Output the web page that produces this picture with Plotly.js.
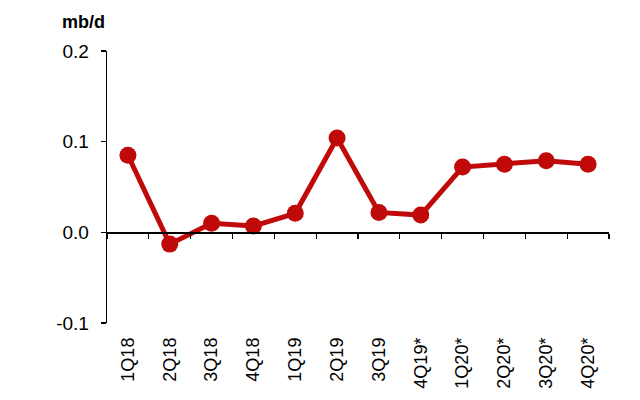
<!DOCTYPE html>
<html>
<head>
<meta charset="utf-8">
<script src="https://cdn.plot.ly/plotly-3.0.1.min.js"></script>
<style>html,body{margin:0;padding:0;background:#fff;}#chart{width:640px;height:400px;}</style>
</head>
<body>
<div id="chart"></div>
<script>
const categories = ["1Q18","2Q18","3Q18","4Q18","1Q19","2Q19","3Q19","4Q19*","1Q20*","2Q20*","3Q20*","4Q20*"];
const values = [0.085, -0.013, 0.010, 0.007, 0.021, 0.104, 0.022, 0.019, 0.072, 0.075, 0.079, 0.075];
const yTickVals = [-0.1, 0.0, 0.1, 0.2];
const yTickText = ["-0.1", "0.0", "0.1", "0.2"];
const unitLabel = "mb/d";

const idx = categories.map((c, i) => i);
const boundaries = categories.map((c, i) => i + 0.5).concat([-0.5]);
const red = "#C00A0A";

const traces = [
  {
    x: idx, y: values, type: "scatter", mode: "lines+markers",
    line: {color: red, width: 5},
    marker: {color: red, size: 17},
    xaxis: "x", yaxis: "y", hoverinfo: "skip"
  },
  {
    x: [-0.5, 11.5], y: [0, 0], type: "scatter", mode: "lines",
    line: {color: "rgba(0,0,0,0)", width: 0},
    xaxis: "x2", yaxis: "y", hoverinfo: "skip", showlegend: false
  }
];

const layout = {
  width: 640, height: 400,
  margin: {l: 107, r: 31, t: 51, b: 77},
  paper_bgcolor: "#fff", plot_bgcolor: "#fff",
  showlegend: false,
  font: {family: "Liberation Sans, Arial, sans-serif", color: "#000"},
  xaxis: {
    range: [-0.5, 11.5], tickmode: "array", tickvals: idx, ticktext: categories,
    tickangle: -90, ticks: "", showline: false, showgrid: false, zeroline: false,
    ticklabelstandoff: 10,
    tickfont: {size: 18, color: "#000"}, fixedrange: true
  },
  xaxis2: {
    overlaying: "x", anchor: "free", position: 1/3, side: "bottom",
    range: [-0.5, 11.5], tickmode: "array", tickvals: boundaries,
    showticklabels: false, ticks: "outside", ticklen: 5, tickwidth: 1.3, tickcolor: "#000",
    showline: true, linecolor: "#000", linewidth: 1.3,
    showgrid: false, zeroline: false
  },
  yaxis: {
    range: [-0.1, 0.2], tickmode: "array", tickvals: yTickVals, ticktext: yTickText,
    ticks: "outside", ticklen: 5, tickwidth: 1.3, tickcolor: "#000",
    showline: true, linecolor: "#000", linewidth: 1.3,
    showgrid: false, zeroline: false,
    ticklabelstandoff: 8,
    tickfont: {size: 19, color: "#000"}
  },
  annotations: [{
    text: "<b>" + unitLabel + "</b>", xref: "paper", yref: "paper",
    x: -0.046, y: 1.107, xanchor: "center", yanchor: "middle", showarrow: false,
    font: {size: 18, color: "#000"}
  }]
};

Plotly.newPlot("chart", traces, layout, {displayModeBar: false, staticPlot: true});
</script>
</body>
</html>
